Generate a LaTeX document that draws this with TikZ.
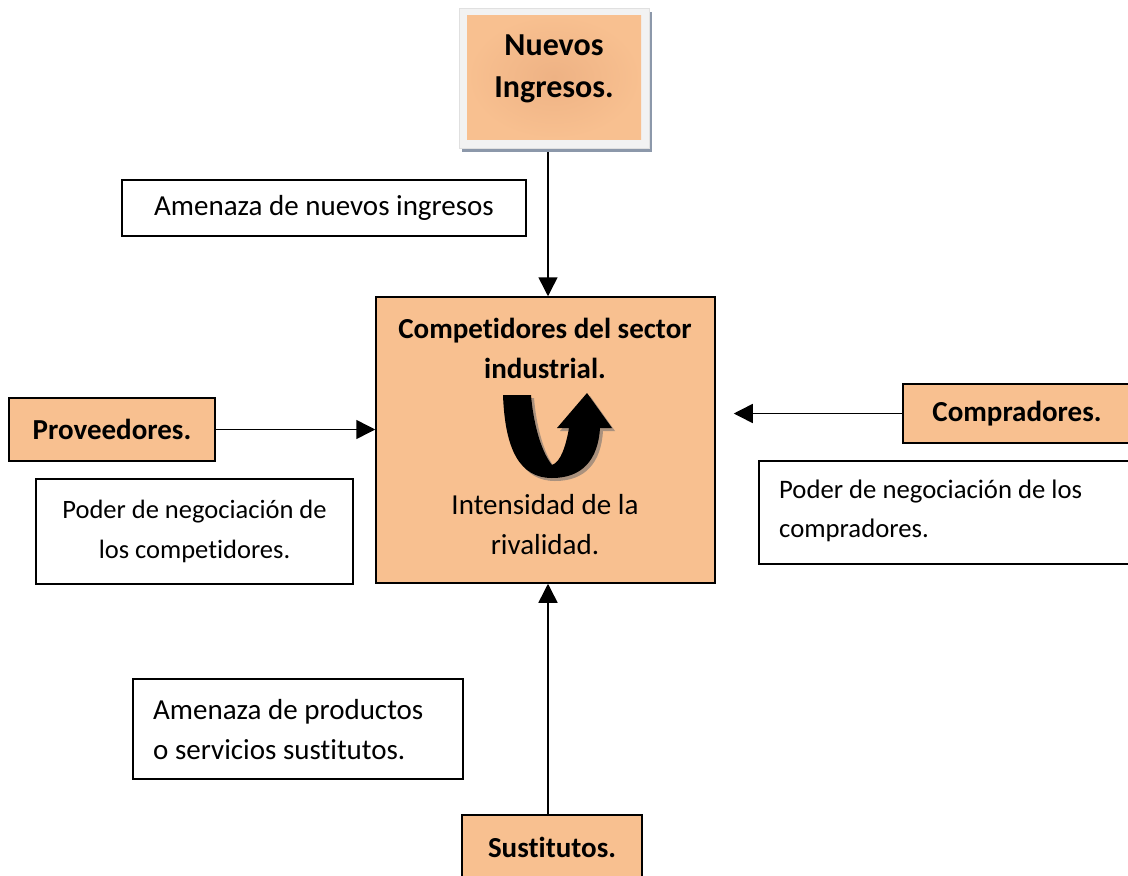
\documentclass[tikz,border=0pt]{standalone}
\usepackage{fontspec}
\setmainfont{Carlito}[Ligatures=NoCommon, RawFeature={-liga;-dlig;-clig}]
\usetikzlibrary{arrows.meta,shadings}
\definecolor{peach}{RGB}{248,192,144}
\definecolor{peachdark}{RGB}{238,178,132}
\definecolor{framegray}{RGB}{242,242,242}
\definecolor{shadowblue}{RGB}{140,152,170}
\definecolor{ushadow}{RGB}{170,145,125}
\tikzset{
  box/.style={draw=black, line width=1.5pt, inner sep=0pt, align=center, font=\fontsize{29}{40}\selectfont},
  orangebox/.style={box, fill=peach, font=\bfseries\fontsize{29}{40}\selectfont},
  whitebox/.style={box, fill=white},
  txt/.style={inner sep=0pt, align=center, font=\fontsize{29}{40}\selectfont},
  ltxt/.style={inner sep=0pt, align=left, anchor=west},
  arr/.style={line width=1.5pt, -{Triangle[length=19pt,width=19pt]}},
}
\begin{document}
\begin{tikzpicture}[x=1pt,y=-1pt]
\useasboundingbox (0,0) rectangle (1128,876);
\clip (0,0) rectangle (1128,876);
\fill[white] (0,0) rectangle (1128,876);

% Nuevos ingresos (framed, shadowed)
\node[fill=shadowblue, minimum width=190pt, minimum height=140pt, inner sep=0pt] (newshadow) at (557,82) {};
\node[fill=framegray, draw=black!12, minimum width=190pt, minimum height=140pt, inner sep=0pt] (newframe) at (554,78) {};
\node[inner color=peachdark, outer color=peach, minimum width=174pt, minimum height=124pt, inner sep=0pt] (newin) at (554,77) {};
\node[txt, font=\bfseries\fontsize{32}{42}\selectfont] (newtxt) at (554,69) {Nuevos\\Ingresos.};

% label boxes
\node[whitebox, minimum width=404pt, minimum height=56pt] (amen1) at (324,208) {Amenaza de nuevos ingresos};

% central box
\node[box, fill=peach, minimum width=339pt, minimum height=286pt] (comp) at (545.5,440) {};
\node[txt, font=\bfseries\fontsize{29}{40}\selectfont] (comptitle) at (545,348) {Competidores del sector\\industrial.};
\node[txt] (rival) at (545,525) {Intensidad de la\\rivalidad.};

% U-turn arrow with shadow
\fill[ushadow, shift={(3,3)}]
  (503,395) .. controls (505,450) and (520,478) .. (552,478)
  .. controls (582,478) and (598,460) .. (600,428) -- (612,428) -- (587,393) -- (557,428) -- (569,428)
  .. controls (566,445) and (561,462) .. (552,465)
  .. controls (540,450) and (533,420) .. (531,395) -- cycle;
\fill[black]
  (503,395) .. controls (505,450) and (520,478) .. (552,478)
  .. controls (582,478) and (598,460) .. (600,428) -- (612,428) -- (587,393) -- (557,428) -- (569,428)
  .. controls (566,445) and (561,462) .. (552,465)
  .. controls (540,450) and (533,420) .. (531,395) -- cycle;

% side boxes
\node[orangebox, minimum width=206pt, minimum height=63pt] (prov) at (112,429.5) {Proveedores.};
\node[orangebox, minimum width=228pt, minimum height=59pt] (compr) at (1017,413.5) {\raisebox{-2pt}{Compradores.}};
\node[whitebox, minimum width=317pt, minimum height=105pt, font=\fontsize{26.5}{40}\selectfont] (poder1) at (194.5,531.5) {Poder de negociación de\\los competidores.};
\node[whitebox, minimum width=384pt, minimum height=103pt] (poder2) at (951,512.5) {};
\node[ltxt, font=\fontsize{26.7}{39}\selectfont] (poder2txt) at (779,511) {Poder de negociación de los\\compradores.};
\node[whitebox, minimum width=330pt, minimum height=100pt] (amen2) at (298,729) {};
\node[ltxt, font=\fontsize{29}{40}\selectfont] (amen2txt) at (153,730) {Amenaza de productos\\o servicios sustitutos.};
\node[orangebox, minimum width=180pt, minimum height=64pt] (sust) at (552,847) {Sustitutos.};

% connectors
\draw[arr] ([xshift=-9pt]newshadow.south) -- ([xshift=2.5pt]comp.north);
\draw[arr] (prov.east) -- (prov.east -| comp.west);
\draw[arr] (compr.west) -- ([xshift=18pt]compr.west -| comp.east);
\draw[arr] ([xshift=-4pt]sust.north) -- ([xshift=2.5pt]comp.south);
\end{tikzpicture}
\end{document}
